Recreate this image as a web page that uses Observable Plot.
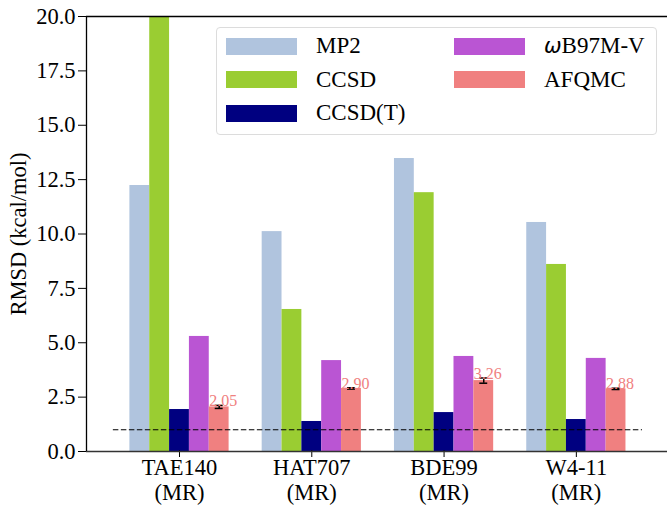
<!DOCTYPE html>
<html>
<head>
<meta charset="utf-8">
<script src="https://cdn.jsdelivr.net/npm/d3@7"></script>
<script src="https://cdn.jsdelivr.net/npm/@observablehq/plot@0.6"></script>
<style>
  body { margin: 0; background: #fff; }
  #wrap { position: relative; width: 667px; height: 506px; font-family: "Liberation Serif", "Times New Roman", Times, serif; }
  #wrap svg text { font-family: "Liberation Serif", "Times New Roman", Times, serif; }
  #legend { position: absolute; left: 216px; top: 27px; width: 441px; height: 108px; box-sizing: border-box;
    border: 1px solid #dcdcdc; border-radius: 4px; background: rgba(255,255,255,0.8); }
  .item { position: absolute; display: flex; align-items: center; height: 24px; font-size: 23px; color: #000;
    font-family: "Liberation Serif", "Times New Roman", Times, serif; }
  .sw { width: 71px; height: 17px; margin-right: 19px; }
</style>
</head>
<body>
<div id="wrap"></div>
<script>
// ---- data ----
const groups = ["TAE140", "HAT707", "BDE99", "W4-11"];
const methods = ["MP2", "CCSD", "CCSD(T)", "ωB97M-V", "AFQMC"];
const colors = ["#b0c4de", "#9acd32", "#000080", "#ba55d3", "#f08080"];
const mp2 = [12.23, 10.11, 13.47, 10.53];
const ccsd = [20.0, 6.53, 11.90, 8.60];
const ccsdt = [1.93, 1.38, 1.79, 1.47];
const wb97mv = [5.29, 4.18, 4.37, 4.28];
const afqmc = [2.05, 2.90, 3.26, 2.88];
const afqmcErr = [0.07, 0.03, 0.12, 0.03];
const refLine = [1.0];
const yTicks = [0, 2.5, 5, 7.5, 10, 12.5, 15, 17.5, 20];

// ---- layout ----
const barW = 0.15;
const xDomain = [-0.703, 3.689];
const series = [mp2, ccsd, ccsdt, wb97mv, afqmc];
const bars = [];
series.forEach((vals, k) => vals.forEach((v, g) => bars.push({
  g, k, value: v, method: methods[k],
  x1: g + (k - 2.5) * barW, x2: g + (k - 1.5) * barW
})));
const afq = afqmc.map((v, g) => ({
  g, value: v, err: afqmcErr[g],
  cx: g + 2 * barW, left: g + 1.5 * barW
}));

const chart = Plot.plot({
  width: 667, height: 506,
  marginLeft: 86, marginRight: 0, marginTop: 16, marginBottom: 55,
  style: { fontFamily: "'Liberation Serif', 'Times New Roman', Times, serif", fontSize: "22.5px", background: "white", color: "black" },
  x: { type: "linear", domain: xDomain },
  y: { domain: [0, 20] },
  marks: [
    Plot.rectY(bars, { x1: "x1", x2: "x2", y: "value", fill: d => colors[d.k], clip: true }),
    Plot.ruleY(refLine, { x1: -0.5, x2: 3.5, stroke: "black", strokeWidth: 1.2, strokeDasharray: "5.5,2.5" }),
    Plot.ruleX(afq, { x: "cx", y1: d => d.value - d.err, y2: d => d.value + d.err, stroke: "black", strokeWidth: 1.5 }),
    Plot.ruleY(afq, { y: d => d.value - d.err, x1: d => d.cx - 0.03, x2: d => d.cx + 0.03, stroke: "black", strokeWidth: 1.5 }),
    Plot.ruleY(afq, { y: d => d.value + d.err, x1: d => d.cx - 0.03, x2: d => d.cx + 0.03, stroke: "black", strokeWidth: 1.5 }),
    Plot.text(afq, { x: "left", y: d => d.value + d.err, text: d => d.value.toFixed(2), textAnchor: "start",
      lineAnchor: "bottom", dy: 1, fill: "#f08080", fontSize: 16 }),
    Plot.axisY({ ticks: yTicks, tickFormat: d => d.toFixed(1), tickSize: 8, tickPadding: 3,
      label: "RMSD (kcal/mol)", labelAnchor: "center", labelOffset: 76, labelArrow: "none" }),
    Plot.axisX({ ticks: [0, 1, 2, 3], tickFormat: i => groups[i] + "\n(MR)", tickSize: 7, tickPadding: 0,
      lineHeight: 1.1, dy: -1, label: null }),
    Plot.ruleY([0], { stroke: "#333", strokeWidth: 1.5 }),
    Plot.ruleY([20], { stroke: "black", strokeWidth: 1.3 }),
    Plot.ruleX([xDomain[0]], { stroke: "black", strokeWidth: 1.3 })
  ]
});
const wrap = document.getElementById("wrap");
wrap.appendChild(chart);

// ---- legend (HTML overlay) ----
const legend = document.createElement("div");
legend.id = "legend";
const pos = [
  [9, 6], [9, 39.5], [9, 73], [237, 6], [237, 39.5]
];
methods.forEach((m, k) => {
  const it = document.createElement("div");
  it.className = "item";
  it.style.left = pos[k][0] + "px";
  it.style.top = pos[k][1] + "px";
  const sw = document.createElement("div");
  sw.className = "sw";
  sw.style.background = colors[k];
  const lab = document.createElement("span");
  if (m.startsWith("ω")) {
    const om = document.createElement("i");
    om.textContent = "ω";
    om.style.fontFamily = "'DejaVu Sans', sans-serif";
    om.style.fontSize = "21px";
    lab.appendChild(om);
    lab.appendChild(document.createTextNode(m.slice(1)));
  } else lab.textContent = m;
  it.appendChild(sw); it.appendChild(lab);
  legend.appendChild(it);
});
wrap.appendChild(legend);
</script>
</body>
</html>
